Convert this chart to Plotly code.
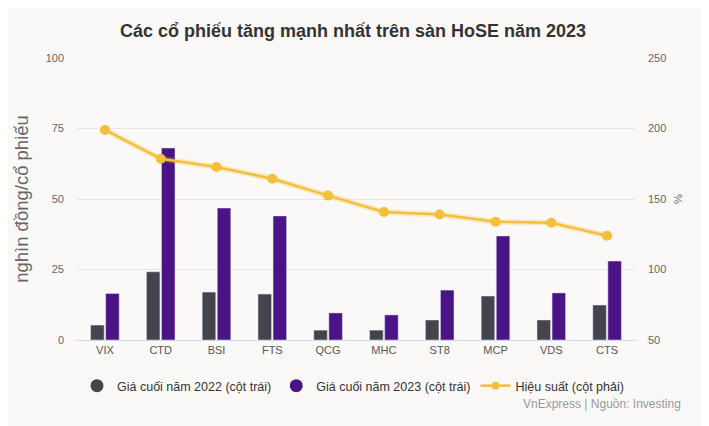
import plotly.graph_objects as go

categories = ["VIX", "CTD", "BSI", "FTS", "QCG", "MHC", "ST8", "MCP", "VDS", "CTS"]
price_2022 = [5.3, 24.2, 17.0, 16.3, 3.5, 3.5, 7.1, 15.6, 7.1, 12.4]
price_2023 = [16.5, 68.1, 46.8, 44.0, 9.6, 8.9, 17.7, 36.9, 16.7, 28.0]
performance = [199, 178.6, 172.7, 164.4, 152.4, 140.8, 139, 133.9, 133.2, 124]
left_ticks = [0, 25, 50, 75, 100]
right_ticks = [50, 100, 150, 200, 250]

C_DARK = "#45434b"
C_PURPLE = "#4b1486"
C_LINE = "#f4bf3a"
FONT = "Liberation Sans, Arial, sans-serif"

fig = go.Figure()
fig.add_trace(go.Bar(x=categories, y=price_2022, marker_color=C_DARK, showlegend=False,
                     name="Giá cuối năm 2022 (cột trái)"))
fig.add_trace(go.Bar(x=categories, y=price_2023, marker_color=C_PURPLE, showlegend=False,
                     name="Giá cuối năm 2023 (cột trái)"))
# soft halo under the line
fig.add_trace(go.Scatter(x=categories, y=performance, yaxis="y2", mode="lines",
                         line=dict(color="rgba(244,191,58,0.25)", width=6),
                         showlegend=False, hoverinfo="skip"))
fig.add_trace(go.Scatter(x=categories, y=performance, yaxis="y2", mode="lines+markers",
                         line=dict(color=C_LINE, width=2.5),
                         marker=dict(color=C_LINE, size=10), showlegend=False,
                         name="Hiệu suất (cột phải)"))
# legend entries
fig.add_trace(go.Scatter(x=[None], y=[None], mode="markers",
                         marker=dict(color=C_DARK, size=13, symbol="circle"),
                         name="Giá cuối năm 2022 (cột trái)"))
fig.add_trace(go.Scatter(x=[None], y=[None], mode="markers",
                         marker=dict(color=C_PURPLE, size=13, symbol="circle"),
                         name="Giá cuối năm 2023 (cột trái)"))
fig.add_trace(go.Scatter(x=[None], y=[None], mode="lines+markers",
                         line=dict(color=C_LINE, width=2.5),
                         marker=dict(color=C_LINE, size=8),
                         name="Hiệu suất (cột phải)"))

fig.update_layout(
    width=709, height=426,
    paper_bgcolor="#faf9f7", plot_bgcolor="#faf9f7",
    margin=dict(l=69, r=82, t=50, b=94),
    font=dict(family=FONT, color="#666666", size=11),
    title=dict(text="<b>Các cổ phiếu tăng mạnh nhất trên sàn HoSE năm 2023</b>",
               x=345 / 709, xanchor="center", yref="container", y=1 - 23 / 426,
               yanchor="middle", font=dict(size=18, color="#333333", family=FONT)),
    barmode="group", bargap=0.46, bargroupgap=0.1,
    xaxis=dict(type="category", showgrid=False, showline=True, linecolor="#ccd6eb",
               linewidth=1, ticks="", tickfont=dict(size=11, color="#555555"),
               range=[-0.5, 9.5]),
    yaxis=dict(range=[0, 100], tickvals=left_ticks, gridcolor="#e6e6e6", zeroline=False,
               showline=False, ticks="", ticklabelstandoff=12,
               title=dict(text="nghìn đồng/cổ phiếu", font=dict(size=18.5, color="#666666"),
                          standoff=12)),
    yaxis2=dict(range=[50, 250], tickvals=right_ticks, overlaying="y", side="right",
                showgrid=False, zeroline=False, ticks="", ticklabelstandoff=12,
                title=dict(text="%", font=dict(size=11, color="#666666"), standoff=8)),
    legend=dict(orientation="h", x=0.0, xanchor="left", y=-0.11, yanchor="top",
                font=dict(size=12.5, color="#333333"), itemwidth=30,
                bgcolor="rgba(0,0,0,0)"),
    annotations=[dict(text="VnExpress | Nguồn: Investing", xref="paper", yref="paper",
                      x=1.086, y=-0.227, xanchor="right", yanchor="middle", showarrow=False,
                      font=dict(size=12, color="#999999"))],
)

fig.write_html("out.html")
